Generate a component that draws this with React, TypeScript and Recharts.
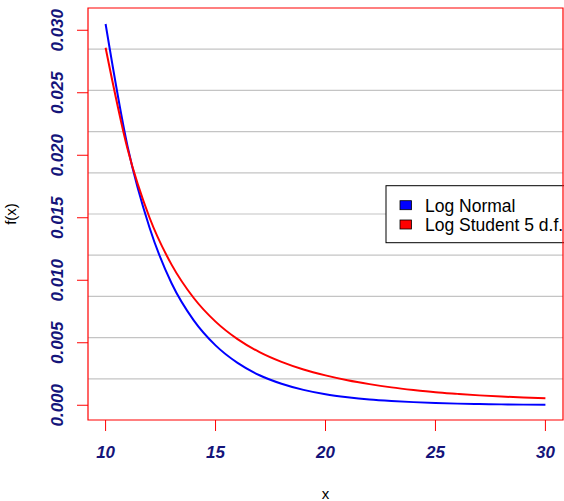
import React from 'react';
import {
  LineChart,
  Line,
  XAxis,
  YAxis,
  CartesianGrid,
  ReferenceArea,
  Customized,
} from 'recharts';

// values at integer x
const xValues = [10, 11, 12, 13, 14, 15, 16, 17, 18, 19, 20, 21, 22, 23, 24, 25, 26, 27, 28, 29, 30];
const logNormal = [
  0.0305, 0.0207, 0.0142, 0.00976, 0.00681, 0.00479, 0.00339, 0.0024, 0.00172, 0.00123, 0.00088,
  0.00064, 0.00046, 0.00034, 0.00025, 0.00018, 0.00013, 0.0001, 0.00007, 0.00005, 0.00004,
];
const logStudent = [
  0.0286, 0.0205, 0.0150, 0.01125, 0.0086, 0.00669, 0.00529, 0.00425, 0.00347, 0.00286, 0.00239,
  0.002, 0.00169, 0.00143, 0.00122, 0.00104, 0.00091, 0.00079, 0.0007, 0.00062, 0.00056,
];
const xTicks = [10, 15, 20, 25, 30];
const yTicks = [0, 0.005, 0.01, 0.015, 0.02, 0.025, 0.03];
const legendItems = [
  { label: 'Log Normal', color: '#0000ff' },
  { label: 'Log Student 5 d.f.', color: '#ff0000' },
];

const X_DOMAIN: [number, number] = [9.2, 30.8];
const Y_DOMAIN: [number, number] = [-0.00118, 0.03178];

const W = 564;
const H = 501;
const MARGIN = { top: 8, right: 1, bottom: 0, left: 0 };
const Y_AXIS_W = 88;
const X_AXIS_H = 81;
const PLOT_LEFT = MARGIN.left + Y_AXIS_W;
const PLOT_RIGHT = W - MARGIN.right;
const PLOT_TOP = MARGIN.top;
const PLOT_BOTTOM = H - MARGIN.bottom - X_AXIS_H;

const FONT = "'Liberation Sans', Arial, Helvetica, sans-serif";
const TICK_COLOR = '#14147a';

const data = xValues.map((x, i) => ({ x, normal: logNormal[i], student: logStudent[i] }));

const YTick = ({ x, y, payload }: any) => (
  <text
    x={x}
    y={y}
    transform={`rotate(-90, ${x}, ${y})`}
    textAnchor="middle"
    fill={TICK_COLOR}
    fontFamily={FONT}
    fontWeight="bold"
    fontStyle="italic"
    fontSize={17}
  >
    {Number(payload.value).toFixed(3)}
  </text>
);

const XTick = ({ x, y, payload }: any) => (
  <text
    x={x}
    y={y}
    textAnchor="middle"
    fill={TICK_COLOR}
    fontFamily={FONT}
    fontWeight="bold"
    fontStyle="italic"
    fontSize={17}
  >
    {payload.value}
  </text>
);

// axis titles + boxed legend, drawn on top of the plot
const Overlay = () => {
  const cx = (PLOT_LEFT + PLOT_RIGHT) / 2;
  const cy = (PLOT_TOP + PLOT_BOTTOM) / 2;
  const boxX = 386;
  const boxY = 185.7;
  return (
    <g fontFamily={FONT}>
      <text x={cx} y={499} textAnchor="middle" fontSize={15} fill="#000">
        x
      </text>
      <text x={16} y={cy} transform={`rotate(-90, 16, ${cy})`} textAnchor="middle" fontSize={15} fill="#000">
        f(x)
      </text>
      <rect x={boxX} y={boxY} width={200} height={57} fill="#fff" stroke="#000" strokeWidth={1} />
      {legendItems.map((item, i) => (
        <g key={item.label}>
          <rect x={boxX + 14} y={boxY + 15 + i * 19.3} width={11.5} height={9} fill={item.color} stroke="#000" strokeWidth={0.8} />
          <text x={boxX + 39} y={boxY + 26 + i * 19.3} fontSize={17.5} fill="#000">
            {item.label}
          </text>
        </g>
      ))}
    </g>
  );
};

export default function App() {
  return (
    <div style={{ position: 'absolute', left: 0, top: 0, width: W, height: H, overflow: 'hidden', background: '#fff' }}>
      <LineChart width={W} height={H} data={data} margin={MARGIN}>
        <CartesianGrid
          vertical={false}
          stroke="#c4c4c4"
          strokeWidth={1.2}
          horizontalCoordinatesGenerator={({ offset }: any) => {
            const step = offset.height / 10;
            return Array.from({ length: 9 }, (_, k) => offset.top + step * (k + 1));
          }}
        />
        <XAxis
          dataKey="x"
          type="number"
          domain={X_DOMAIN}
          ticks={xTicks}
          height={X_AXIS_H}
          axisLine={false}
          tickLine={{ stroke: '#ff0000', strokeWidth: 1 }}
          tickSize={11}
          tickMargin={27}
          tick={<XTick />}
          allowDataOverflow
        />
        <YAxis
          type="number"
          domain={Y_DOMAIN}
          ticks={yTicks}
          width={Y_AXIS_W}
          axisLine={false}
          tickLine={{ stroke: '#ff0000', strokeWidth: 1 }}
          tickSize={11}
          tickMargin={14}
          tick={<YTick />}
          allowDataOverflow
        />
        <ReferenceArea
          x1={X_DOMAIN[0]}
          x2={X_DOMAIN[1]}
          y1={Y_DOMAIN[0]}
          y2={Y_DOMAIN[1]}
          fill="none"
          fillOpacity={0}
          stroke="#ff0000"
          strokeWidth={1.2}
          ifOverflow="visible"
        />
        <Line type="monotone" dataKey="normal" stroke="#0000ff" strokeWidth={2} dot={false} isAnimationActive={false} />
        <Line type="monotone" dataKey="student" stroke="#ff0000" strokeWidth={2} dot={false} isAnimationActive={false} />
        <Customized component={<Overlay />} />
      </LineChart>
    </div>
  );
}
